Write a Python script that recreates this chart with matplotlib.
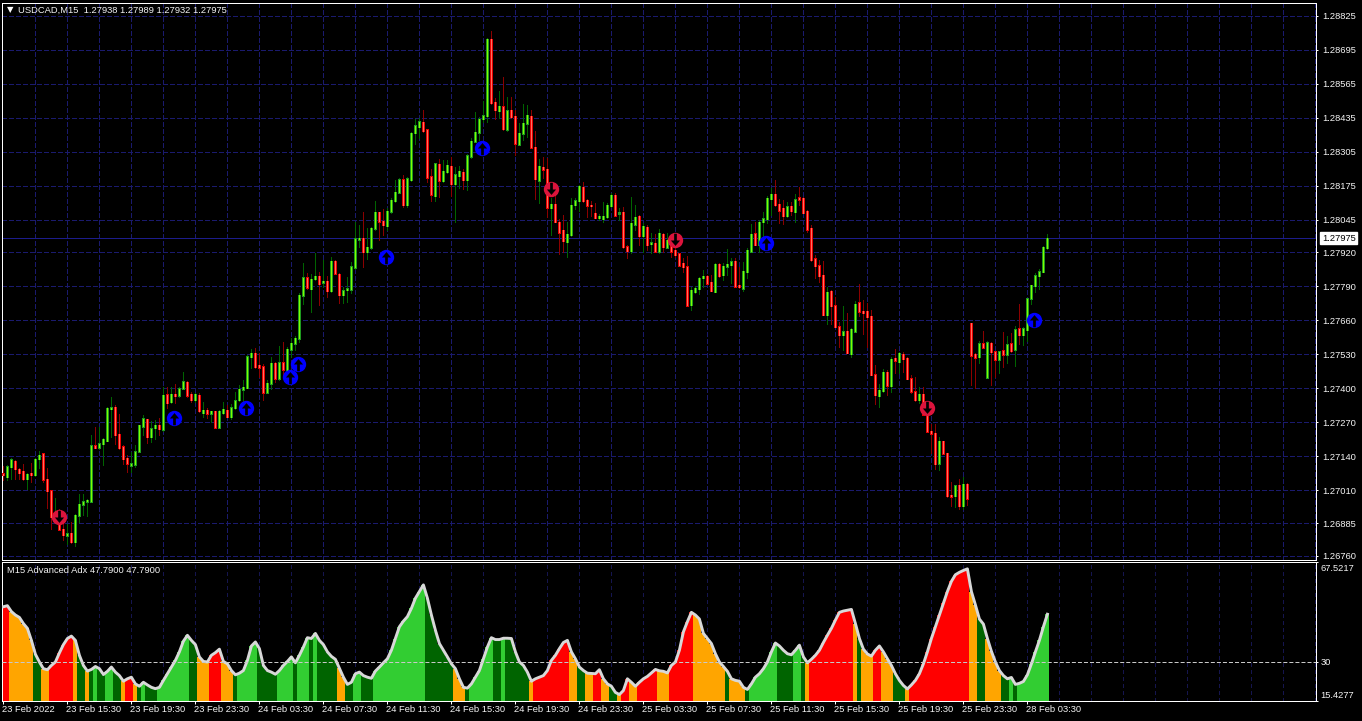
import numpy as np
import matplotlib
matplotlib.use('Agg')
import matplotlib.pyplot as plt
from matplotlib.path import Path
from matplotlib.transforms import ScaledTranslation

# USDCAD M15 prices, in 1e-5 units
opens_pts = [
    127074,127062,127100,127122,127090,127083,127055,127075,127070,127131,
    127149,127052,127009,126919,126909,126861,126839,126845,126814,126914,
    126956,126968,126969,127181,127174,127188,127200,127322,127327,127224,
    127177,127132,127106,127109,127159,127256,127282,127215,127250,127259,
    127243,127376,127349,127377,127373,127400,127424,127377,127357,127373,
    127307,127316,127305,127312,127252,127307,127317,127292,127326,127356,
    127396,127403,127521,127534,127488,127483,127386,127419,127496,127438,
    127498,127470,127549,127572,127591,127756,127824,127781,127819,127828,
    127805,127809,127773,127886,127837,127758,127777,127779,127863,127970,
    127974,127923,127939,128012,128073,128039,128023,128077,128118,128150,
    128197,128102,128198,128378,128401,128417,128390,128210,128137,128257,
    128194,128229,128250,128183,128213,128226,128198,128287,128345,128380,
    128431,128443,128736,128494,128462,128477,128392,128464,128440,128334,
    128375,128414,128440,128322,128197,128245,128238,128091,128104,128035,
    128004,127961,127988,128102,128118,128169,128119,128101,128069,128053,
    128048,128057,128099,128138,128069,128073,127942,127927,128027,128058,
    127984,128016,127953,127955,127925,127990,127939,127948,127929,127914,
    127878,127865,127720,127770,127782,127823,127828,127805,127770,127874,
    127834,127867,127873,127886,127794,127783,127846,127925,127992,127950,
    128038,128048,128126,128142,128104,128089,128060,128096,128076,128129,
    128127,128077,128012,127895,127870,127832,127682,127771,127717,127636,
    127605,127618,127533,127619,127728,127695,127695,127675,127452,127371,
    127391,127461,127411,127515,127502,127530,127515,127437,127387,127357,
    127377,127304,127236,127228,127113,127197,127151,126992,126990,127029,
    126951,127033,127649,127530,127521,127571,127442,127572,127541,127511,
    127544,127530,127571,127549,127628,127605,127624,127744,127793,127831,127846,127938]
highs_pts = [
    127103,127106,127132,127126,127094,127111,127078,127116,127134,127159,
    127151,127095,127009,126979,126940,126897,126880,126890,126919,126996,
    126995,126976,127222,127251,127251,127210,127330,127367,127335,127302,
    127183,127145,127158,127183,127261,127297,127284,127276,127279,127285,
    127406,127404,127406,127417,127406,127464,127429,127387,127384,127381,
    127347,127324,127313,127315,127317,127348,127335,127340,127386,127412,
    127432,127529,127551,127553,127534,127493,127432,127519,127501,127562,
    127579,127560,127591,127600,127763,127878,127840,127837,127916,127845,
    127891,127830,127901,127891,127840,127789,127827,127884,128036,128025,
    128076,128012,128018,128115,128076,128088,128091,128127,128197,128203,
    128216,128210,128382,128429,128433,128464,128394,128238,128263,128276,
    128273,128273,128285,128248,128250,128241,128296,128356,128458,128439,
    128500,128740,128767,128509,128537,128592,128513,128513,128464,128414,
    128488,128484,128464,128385,128276,128286,128280,128128,128142,128048,
    128065,128035,128127,128127,128178,128188,128123,128118,128108,128067,
    128111,128108,128146,128146,128091,128095,127948,128131,128101,128063,
    128031,128025,127993,127990,128008,127995,127993,127974,127942,127919,
    127897,127906,127789,127792,127827,127853,127834,127834,127878,127878,
    127881,127933,127897,127897,127865,127883,127936,128029,128038,128044,
    128076,128136,128165,128197,128123,128120,128111,128111,128143,128169,
    128133,128082,128025,127910,127891,127887,127789,127776,127751,127655,
    127715,127687,127630,127734,127799,127738,127725,127700,127488,127417,
    127473,127470,127519,127549,127540,127540,127519,127451,127442,127404,
    127404,127311,127264,127264,127213,127200,127154,127043,127030,127053,
    127062,127037,127651,127534,127581,127618,127582,127577,127544,127544,
    127615,127600,127610,127638,127723,127633,127744,127797,127840,127855,127944,127989]
lows_pts = [
    127049,127049,127053,127055,127052,127049,127016,127043,127065,127095,
    127043,126941,126863,126909,126858,126820,126803,126810,126798,126890,
    126916,126912,126964,127171,127169,127107,127198,127213,127187,127169,
    127111,127081,127079,127100,127155,127222,127192,127195,127206,127222,
    127238,127324,127343,127345,127368,127396,127366,127347,127347,127311,
    127292,127285,127273,127250,127251,127301,127289,127282,127322,127350,
    127349,127400,127477,127477,127445,127356,127381,127396,127426,127432,
    127451,127464,127521,127547,127578,127722,127782,127693,127814,127720,
    127789,127750,127770,127836,127725,127725,127731,127763,127858,127942,
    127863,127896,127932,128006,127967,127986,128006,128072,128114,128146,
    128095,128095,128194,128334,128356,128382,128189,128116,128116,128133,
    128190,128222,128135,128037,128165,128161,128158,128280,128342,128350,
    128419,128419,128488,128429,128436,128390,128384,128436,128292,128331,
    128350,128363,128318,128123,128108,128203,128057,127986,128035,127914,
    127920,127901,127984,128088,128078,128114,128057,128059,128050,128044,
    128037,128053,128095,128060,128044,127938,127900,127916,128006,127948,
    127923,127929,127919,127923,127919,127923,127936,127901,127901,127868,
    127846,127716,127700,127766,127761,127786,127799,127771,127767,127827,
    127814,127834,127802,127789,127785,127774,127823,127923,127947,127922,
    127980,128031,128063,128097,128031,128029,128057,128063,128038,128101,
    128069,127999,127888,127822,127808,127679,127646,127646,127633,127557,
    127547,127534,127521,127615,127677,127608,127559,127450,127340,127330,
    127387,127375,127387,127457,127457,127464,127434,127383,127353,127343,
    127298,127233,127154,127090,127088,127149,126986,126950,126945,126938,
    126937,126954,127413,127400,127498,127554,127438,127413,127442,127457,
    127483,127496,127539,127487,127570,127566,127582,127723,127770,127780,127844,127932]
closes_pts = [
    127069,127100,127126,127092,127078,127055,127071,127070,127129,127144,
    127052,127009,126909,126926,126861,126840,126844,126814,126914,126956,
    126967,126972,127181,127173,127188,127205,127324,127326,127223,127173,
    127131,127113,127111,127158,127259,127284,127215,127246,127259,127245,
    127373,127345,127378,127372,127399,127426,127373,127357,127377,127315,
    127316,127305,127312,127251,127313,127320,127292,127326,127353,127396,
    127404,127521,127534,127483,127480,127385,127419,127496,127438,127498,
    127474,127549,127572,127591,127756,127824,127786,127817,127828,127801,
    127810,127773,127886,127840,127758,127773,127781,127865,127972,127975,
    127923,127939,128012,128073,128039,128026,128077,128120,128150,128197,
    128102,128201,128375,128405,128420,128385,128207,128142,128260,128196,
    128230,128254,128183,128218,128230,128198,128289,128346,128380,128430,
    128443,128736,128493,128466,128479,128393,128461,128439,128337,128375,
    128414,128444,128322,128202,128250,128238,128092,128104,128037,127997,
    127965,127989,128100,128118,128174,128118,128100,128099,128053,128058,
    128059,128100,128138,128063,128072,127942,127926,128031,128054,127984,
    128021,127950,127956,127925,127993,127941,127967,127924,127911,127872,
    127865,127719,127775,127783,127821,127828,127803,127774,127874,127830,
    127867,127874,127885,127791,127789,127848,127928,127989,127950,128036,
    128049,128127,128142,128103,128082,128060,128095,128080,128122,128124,
    128072,128009,127892,127869,127831,127682,127767,127716,127636,127605,
    127617,127536,127626,127721,127696,127690,127674,127452,127376,127392,
    127461,127413,127511,127507,127534,127514,127437,127389,127357,127377,
    127302,127237,127228,127111,127197,127151,126990,126988,127028,126951,
    127033,126979,127526,127519,127571,127558,127575,127541,127511,127540,
    127531,127567,127544,127624,127605,127628,127742,127794,127831,127846,127939,127975]

# Advanced ADX line
adx_values = [
    50.6,51.0,48.8,47.5,46.6,44.3,42.5,38.0,32.8,29.9,
    27.4,27.0,28.6,29.9,33.3,36.4,38.7,39.6,38.0,32.4,
    28.6,26.5,27.1,28.2,27.4,25.2,26.4,28.0,26.1,24.8,
    22.7,23.6,24.2,21.7,20.8,22.3,21.3,20.4,19.9,20.4,
    23.0,25.5,28.0,30.5,33.7,37.7,39.9,38.0,36.4,31.8,
    30.1,29.9,32.4,33.4,34.7,30.1,29.2,26.7,25.1,25.7,
    26.7,30.5,35.9,37.4,34.9,28.6,26.7,26.1,25.3,26.7,
    28.6,30.1,31.8,29.6,32.4,35.5,39.0,38.7,40.6,38.0,
    36.4,33.7,32.0,30.9,27.6,24.2,21.5,22.3,25.5,26.1,
    24.8,24.2,23.8,26.5,28.0,29.6,31.1,34.3,38.7,43.1,
    45.2,46.9,50.0,53.8,56.3,58.8,53.8,47.5,41.8,36.8,
    34.3,31.8,29.2,27.4,23.6,20.4,20.1,21.7,24.2,26.7,
    31.1,35.5,39.0,38.3,38.3,38.8,38.8,38.7,33.7,29.9,
    28.6,26.1,22.7,23.6,24.2,24.8,26.7,30.5,32.4,34.9,
    37.2,38.0,33.7,31.1,28.0,26.7,25.7,25.6,25.5,27.0,
    23.6,21.7,20.8,18.5,17.7,19.2,23.6,22.3,20.8,22.3,
    23.6,24.5,25.8,27.1,26.6,26.4,25.8,28.6,29.9,34.3,
    41.2,45.0,48.5,47.5,46.0,40.6,38.7,36.8,33.0,29.9,
    28.2,26.4,23.6,23.0,22.7,20.4,19.6,21.7,24.2,25.5,
    27.4,29.9,33.7,37.0,35.9,34.3,33.0,32.6,34.3,36.2,
    31.8,29.6,30.9,32.4,34.3,37.2,39.9,42.5,45.6,48.5,
    49.0,49.3,49.6,44.3,38.7,34.7,32.9,32.1,34.3,35.9,
    33.7,31.1,28.6,25.5,23.0,21.1,19.8,21.3,23.0,25.5,
    29.2,33.7,38.7,43.1,47.5,51.9,56.3,60.1,62.6,63.5,
    64.2,64.8,56.3,51.3,46.0,44.1,38.7,33.9,29.9,26.7,
    24.8,23.6,24.1,21.5,21.9,22.6,25.1,29.2,33.7,38.0,43.1,47.79]

# histogram colour per bar, as (state, number of bars)
adx_runs = [
    ('R',2),('O',6),('D',2),('O',2),('R',6),('O',1),('D',2),('O',1),('D',1),('L',1),
    ('D',2),('L',2),('D',2),('O',1),('R',2),('O',1),('D',1),('L',1),('D',3),('L',8),
    ('D',2),('O',3),('R',3),('O',3),('D',1),('L',5),('D',5),('L',4),('D',1),('L',3),
    ('D',1),('L',1),('D',5),('O',2),('D',2),('L',2),('D',3),('L',13),('D',7),('O',3),
    ('D',1),('L',6),('D',2),('L',1),('D',6),('O',1),('R',9),('O',2),('D',2),('O',2),
    ('R',2),('O',2),('D',2),('O',1),('R',2),('O',2),('R',5),('O',3),('R',6),('O',8),
    ('D',1),('O',4),('D',1),('L',7),('D',4),('L',2),('D',1),('O',1),('R',11),('O',1),
    ('D',1),('O',3),('R',2),('O',3),('D',3),('O',1),('R',15),('O',2),('D',2),('O',4),
    ('D',2),('L',1),('D',1),('L',8)]
state_colors = {'R': '#ff0000', 'O': '#ffa500', 'D': '#006400', 'L': '#32cd32'}

# signal arrows: bar position and price
buy_x = [42.6, 60.7, 71.7, 73.7, 95.7, 119.7, 190.7, 257.6]
buy_y = [127285, 127324, 127443, 127492, 127903, 128318, 127956, 127660]
sell_x = [13.8, 136.9, 167.8, 230.8]
sell_y = [126909, 128164, 127969, 127326]

price_ticks = ['1.28825', '1.28695', '1.28565', '1.28435', '1.28305', '1.28175',
               '1.28045', '1.27920', '1.27790', '1.27660', '1.27530', '1.27400',
               '1.27270', '1.27140', '1.27010', '1.26885', '1.26760']
time_labels = ['23 Feb 2022', '23 Feb 15:30', '23 Feb 19:30', '23 Feb 23:30',
               '24 Feb 03:30', '24 Feb 07:30', '24 Feb 11:30', '24 Feb 15:30',
               '24 Feb 19:30', '24 Feb 23:30', '25 Feb 03:30', '25 Feb 07:30',
               '25 Feb 11:30', '25 Feb 15:30', '25 Feb 19:30', '25 Feb 23:30',
               '28 Feb 03:30']
last_price = 1.27975
adx_min, adx_max = 15.4277, 67.5217

W, H = 1362, 721
FONT = 'Liberation Sans'
FS = 6.75
GRID = '#1a1a6e'
TEXT = '#f4f4f4'
PX = 0.72  # one pixel in points

plt.rcParams['font.family'] = FONT
plt.rcParams['lines.scale_dashes'] = False

def px_axes(left, top, right, bottom):
    return fig.add_axes([left / W, 1 - bottom / H, (right - left) / W, (bottom - top) / H],
                        facecolor='black')

def nudge(artist, dx=0, dy=0):
    artist.set_transform(artist.get_transform() + ScaledTranslation(dx / 100, dy / 100, fig.dpi_scale_trans))

fig = plt.figure(figsize=(W / 100, H / 100), dpi=100, facecolor='black')
ax = px_axes(2.4, 2.6, 1316.4, 559.6)
sub = px_axes(2.4, 561.6, 1316.4, 700.6)

opens = np.array(opens_pts) / 1e5
highs = np.array(highs_pts) / 1e5
lows = np.array(lows_pts) / 1e5
closes = np.array(closes_pts) / 1e5
bars = np.arange(len(closes))
up = closes >= opens

xlim = (-0.25, 328.25)
grid_x = np.arange(8, 329, 8)

# main chart grid
tick_vals = [float(t) for t in price_ticks]
ax.set_xlim(*xlim)
ax.set_ylim(1.267451, 1.288756)
dash = (0, (2.9, 1.45))
ax.vlines(grid_x, 1.267451, 1.288756, colors=GRID, lw=PX, linestyles=dash, antialiased=False, zorder=1)
ax.hlines(tick_vals, *xlim, colors=GRID, lw=PX, linestyles=dash, antialiased=False, zorder=1)
ax.axhline(last_price, color='#1c1c8c', lw=PX, antialiased=False, zorder=1)

# candles: wick, 3 px body edge, 1 px bright core
body_top = np.maximum(opens, closes)
body_low = np.minimum(opens, closes)
ax.vlines(bars[up], lows[up], highs[up], colors='#006400', lw=PX, antialiased=False, zorder=2)
ax.vlines(bars[~up], lows[~up], highs[~up], colors='#8b0000', lw=PX, antialiased=False, zorder=2)
ax.vlines(bars[up], body_low[up] - 0.00002, body_top[up] + 0.00002, colors='#1f9a1f', lw=3 * PX,
          antialiased=False, zorder=3)
ax.vlines(bars[~up], body_low[~up] - 0.00002, body_top[~up] + 0.00002, colors='#e80000', lw=3 * PX,
          antialiased=False, zorder=3)
ax.vlines(bars[up], body_low[up], body_top[up], colors='#7fff00', lw=PX, antialiased=False, zorder=3.5)
ax.vlines(bars[~up], body_low[~up], body_top[~up], colors='#ff7060', lw=PX, antialiased=False, zorder=3.5)

# signal discs with an arrow through them
arrow_up = Path([(-0.1, -0.5), (-0.1, 0.0), (-0.34, 0.0), (0, 0.4), (0.34, 0.0),
                 (0.1, 0.0), (0.1, -0.5), (-0.1, -0.5)], closed=True)
arrow_down = Path(arrow_up.vertices * [1, -1], closed=True)
ax.scatter(buy_x, np.array(buy_y) / 1e5, s=122, color='#0000ff', linewidths=0, zorder=4)
ax.scatter(buy_x, np.array(buy_y) / 1e5, s=95, marker=arrow_up, color='black', linewidths=0, zorder=5)
ax.scatter(sell_x, np.array(sell_y) / 1e5, s=122, color='#dc143c', linewidths=0, zorder=4)
ax.scatter(sell_x, np.array(sell_y) / 1e5, s=95, marker=arrow_down, color='black', linewidths=0, zorder=5)

ax.set_xticks([])
ax.yaxis.tick_right()
ax.set_yticks(tick_vals, labels=price_ticks, fontsize=FS, color=TEXT)
ax.tick_params(axis='y', length=1.4, width=PX, color='white', pad=2.9)
for s in ax.spines.values():
    s.set_color('white')
    s.set_linewidth(PX)

# current price tag
ax.text(1.0042, last_price, '1.27975', transform=ax.get_yaxis_transform(), ha='left', va='center',
        fontsize=FS, color='black', zorder=6, clip_on=False,
        bbox=dict(facecolor='white', edgecolor='white', pad=1.3))

# ADX panel
states = [s for s, n in adx_runs for _ in range(n)]
sub.set_xlim(*xlim)
sub.set_ylim(adx_min, adx_max)
sub.vlines(grid_x, adx_min, adx_max, colors='#15154f', lw=PX, linestyles=(0, (2.2, 2.2)), antialiased=False, zorder=1)
adx = np.array(adx_values)
sub.bar(bars, adx - adx_min, bottom=adx_min, width=1.0, color=[state_colors[s] for s in states],
        linewidth=0, antialiased=False, zorder=2)
sub.plot(bars, adx, color='#d8d8d8', lw=2.1, zorder=3, solid_joinstyle='round')
sub.axhline(30, color='#c8c8c8', lw=PX, linestyle=(0, (2.9, 1.45)), zorder=4)

sub.yaxis.tick_right()
sub.set_yticks([adx_max, 30, adx_min], labels=['67.5217', '30', '15.4277'], fontsize=FS, color=TEXT)
sub.tick_params(axis='y', length=1.4, width=PX, color='white', pad=1.4)
sub.get_yticklabels()[0].set_va('top')
sub.get_yticklabels()[2].set_va('bottom')
nudge(sub.get_yticklabels()[0], dy=-2.5)
nudge(sub.get_yticklabels()[2], dy=1)
sub.set_xticks(np.arange(len(time_labels)) * 16, labels=time_labels, fontsize=FS, color=TEXT, ha='left')
sub.tick_params(axis='x', length=2.2, width=PX, color='white', pad=1.2)
for lab in sub.get_xticklabels():
    nudge(lab, dx=-1)
for s in sub.spines.values():
    s.set_color('white')
    s.set_linewidth(PX)

# window captions
fig.text(18 / W, 1 - 10 / H, 'USDCAD,M15  1.27938 1.27989 1.27932 1.27975', fontsize=FS, color=TEXT,
         ha='left', va='center')
fig.text(10 / W, 1 - 10 / H, '\u25bc', fontsize=6, color='white', ha='center', va='center',
         family=['DejaVu Sans'])
fig.text(7 / W, 1 - 570.5 / H, 'M15 Advanced Adx 47.7900 47.7900', fontsize=FS, color=TEXT,
         ha='left', va='center')

fig.savefig('out.png', dpi=100, facecolor='black')
